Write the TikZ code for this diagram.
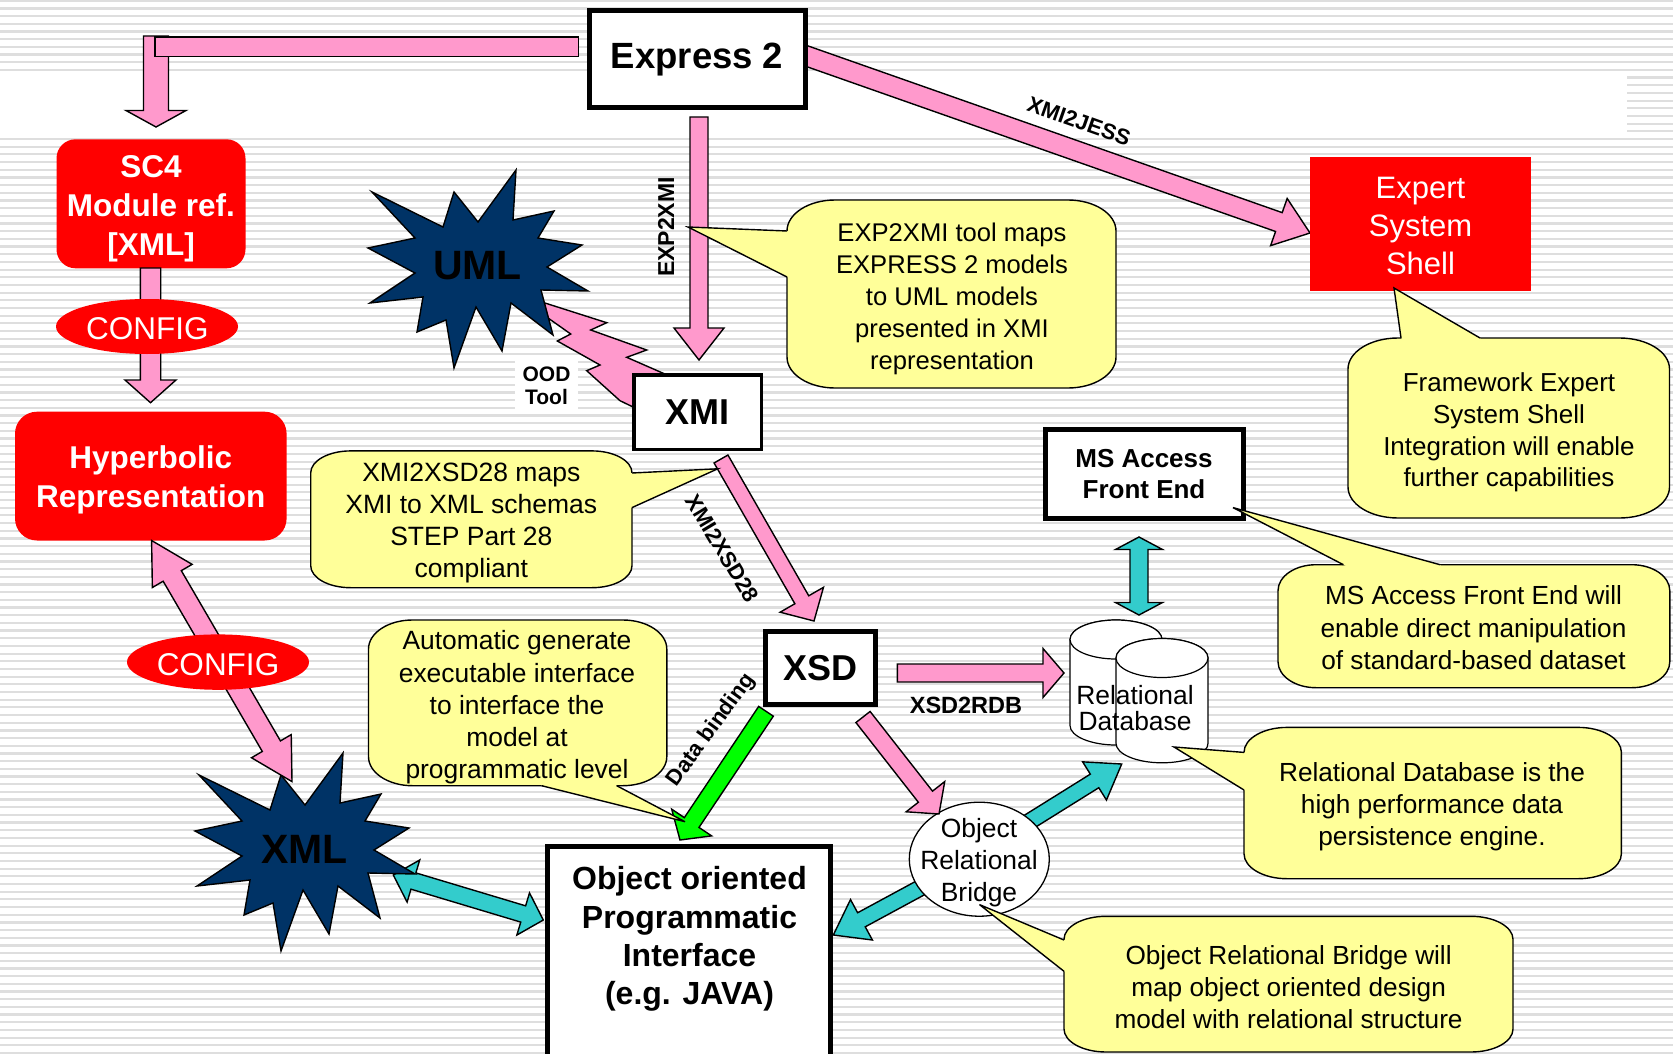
\documentclass[tikz,border=0pt]{standalone}
\usepackage{fontspec}
\setmainfont{Liberation Sans}
\usetikzlibrary{calc,shapes.geometric}

\definecolor{pinkfill}{RGB}{255,153,204}
\definecolor{cyanfill}{RGB}{51,204,204}
\definecolor{navyfill}{RGB}{0,51,102}
\definecolor{notefill}{RGB}{255,255,153}
\definecolor{greenfill}{RGB}{0,255,0}
\definecolor{bgstripe}{RGB}{222,222,222}

\newcommand\fsz[2]{\fontsize{#1}{#2}\selectfont}

\tikzset{
  outline/.style={draw=black, line width=1.4pt, line join=miter, miter limit=6},
  pinkarrow/.style={outline, fill=pinkfill},
  cyanarrow/.style={outline, fill=cyanfill},
  greenarrow/.style={outline, fill=greenfill},
  notebox/.style={outline, fill=notefill},
  starshape/.style={outline, fill=navyfill},
  framebox/.style={draw=black, fill=white, line width=5pt, inner sep=0pt, align=center},
  redbox/.style={fill=red, text=white, inner sep=0pt, align=center},
  whitetext/.style={text=white, inner sep=0pt, align=center},
  notetext/.style={inner sep=0pt, align=center},
  arrowlabel/.style={inner sep=0pt, font=\fsz{22}{26}\bfseries},
}

% straight block arrow: [style]{from}{to}{half shaft}{half head}{head length}
\newcommand\blockarrow[6][pinkarrow]{%
  \path ($(#3)!#6!(#2)$) coordinate (ba-h);
  \draw[#1] ($(#2)!#4!90:(#3)$) -- ($(ba-h)!#4!90:(#3)$) -- ($(ba-h)!#5!90:(#3)$) -- (#3)
    -- ($(ba-h)!#5!-90:(#3)$) -- ($(ba-h)!#4!-90:(#3)$) -- ($(#2)!#4!-90:(#3)$) -- cycle;}

% block arrow with a head at both ends
\newcommand\dblarrow[6][cyanarrow]{%
  \path ($(#2)!#6!(#3)$) coordinate (da-a) ($(#3)!#6!(#2)$) coordinate (da-b);
  \draw[#1] (#2) -- ($(da-a)!#5!90:(#3)$) -- ($(da-a)!#4!90:(#3)$) -- ($(da-b)!#4!90:(#3)$)
    -- ($(da-b)!#5!90:(#3)$) -- (#3) -- ($(da-b)!#5!-90:(#3)$) -- ($(da-b)!#4!-90:(#3)$)
    -- ($(da-a)!#4!-90:(#3)$) -- ($(da-a)!#5!-90:(#3)$) -- cycle;}

% twelve-point burst centred on #1
\newcommand\starburst[1]{%
  \draw[starshape, shift={#1}] (-106,-77) -- (-35,-42) -- (-24,-77) -- (0,-47) -- (38,-99)
    -- (35,-49) -- (76,-58) -- (60,-31) -- (104,-24) -- (69,-2) -- (110,22) -- (63,21)
    -- (75,66) -- (33,34) -- (24,82) -- (-2,38) -- (-24,99) -- (-32,51) -- (-61,63)
    -- (-55,28) -- (-108,34) -- (-63,4) -- (-110,-21) -- (-63,-31) -- cycle;}

% database drum: centre x, top y, bottom y, x radius, y radius
\newcommand\drum[5]{%
  \draw[outline, fill=white, line width=1.2pt] (#1-#4,#2) -- (#1-#4,#3)
    arc[start angle=180, end angle=0, x radius=#4, y radius=#5] -- (#1+#4,#2)
    arc[start angle=0, end angle=-180, x radius=#4, y radius=#5] -- cycle;
  \draw[outline, fill=white, line width=1.2pt] (#1,#2) ellipse[x radius=#4, y radius=#5];}

% speech balloon: x1,y1,x2,y2, corner rx, corner ry, tip, base point 1, base point 2
\newcommand\balloon[9]{%
  \coordinate (bc) at ({(#1+#3)/2},{(#2+#4)/2});
  \draw[notebox] (#1+#5,#2) -- (#3-#5,#2) arc[start angle=-90, end angle=0, x radius=#5, y radius=#6]
    -- (#3,#4-#6) arc[start angle=0, end angle=90, x radius=#5, y radius=#6]
    -- (#1+#5,#4) arc[start angle=90, end angle=180, x radius=#5, y radius=#6]
    -- (#1,#2+#6) arc[start angle=180, end angle=270, x radius=#5, y radius=#6] -- cycle;
  \fill[notefill] (#7) -- (#8) -- ($(#8)!4pt!(bc)$) -- ($(#9)!4pt!(bc)$) -- (#9) -- cycle;
  \draw[outline] (#8) -- (#7) -- (#9);}

\begin{document}
\begin{tikzpicture}[x=1pt, y=-1pt]
\useasboundingbox (0,0) rectangle (1673,1054);
\clip (0,0) rectangle (1673,1054);

% striped slide background
\fill[white] (0,0) rectangle (1673,1054);
\foreach \i in {0,...,137}
  \draw[draw=bgstripe, line width=2.2pt] (0,0.8+7.68*\i) -- (1673,0.8+7.68*\i);
\fill[white] (0,72) rectangle (1627,133);

% arrow end points
\coordinate (L-top) at (156,36);
\coordinate (L-tip) at (156,127);
\coordinate (jess-a) at (800,53.7);
\coordinate (jess-b) at (1310,233);
\coordinate (exp-a) at (699,117);
\coordinate (exp-b) at (699,360);
\coordinate (sc4-a) at (150.5,268);
\coordinate (sc4-b) at (150.5,402.7);
\coordinate (x28-a) at (721,459);
\coordinate (x28-b) at (814,621);
\coordinate (hx-a) at (151.6,540.5);
\coordinate (hx-b) at (292,781.6);
\coordinate (xo-a) at (393.3,875);
\coordinate (xo-b) at (543.3,920);
\coordinate (db-a) at (766,711.3);
\coordinate (db-b) at (680,840);
\coordinate (rdb-a) at (897.3,673);
\coordinate (rdb-b) at (1064,673);
\coordinate (ma-a) at (1139,537);
\coordinate (ma-b) at (1139,615);
\coordinate (or-a) at (1003,838);
\coordinate (or-b) at (1121.7,764);
\coordinate (oo-a) at (956,868.6);
\coordinate (oo-b) at (833.3,935);
\coordinate (xb-a) at (863,717);
\coordinate (xb-b) at (939,814);

% Express 2 -> SC4 bent arrow
\blockarrow[pinkarrow]{L-top}{L-tip}{12.5pt}{30pt}{16.5pt}
\draw[pinkarrow] (155,37) rectangle (578.5,56.5);

% Express 2 -> Expert System Shell
\blockarrow[pinkarrow]{jess-a}{jess-b}{10pt}{25pt}{33pt}
\node[framebox, minimum width=216pt, minimum height=96.7pt, font=\fsz{36.5}{40}\bfseries]
  (express) at (697.1,59.2) {Express 2};
\node[redbox, minimum width=220.6pt, minimum height=133.5pt] (expert) at (1420.3,223.8) {};
\node[whitetext, font=\fsz{31}{38}] (experttext) at (1420.5,226) {Expert\\System\\Shell};

% Express 2 -> XMI
\blockarrow[pinkarrow]{exp-a}{exp-b}{9pt}{25pt}{32pt}

% left column
\node[redbox, rounded corners=19pt, minimum width=189pt, minimum height=129pt] (sc4) at (151,203.8) {};
\node[whitetext, font=\fsz{31.5}{39}\bfseries] (sc4text) at (151,209)
  {SC4\\Module ref.\\{[XML]}};
\blockarrow[pinkarrow]{sc4-a}{sc4-b}{10.2pt}{25.5pt}{22.7pt}
\node[ellipse, fill=red, minimum width=182pt, minimum height=55pt, inner sep=0pt]
  (cfgA) at (147,326.5) {};
\node[whitetext, font=\fsz{31.5}{36}] (cfgAtext) at (147.4,328.5) {CONFIG};
\node[redbox, rounded corners=22pt, minimum width=271.6pt, minimum height=128.8pt]
  (hyper) at (150.8,476.1) {};
\node[whitetext, font=\fsz{31.5}{38.5}\bfseries] (hypertext) at (150.8,479.8)
  {Hyperbolic\\Representation};

% UML burst and the OOD tool bolt into XMI
\draw[pinkarrow] (544,302.7) -- (606.7,322.7) -- (590.7,330) -- (646.7,350) -- (626.7,357.3)
  -- (690,385) -- (660,420) -- (620,400.7) -- (586.7,370.7) -- (600,365) -- (557.3,341)
  -- (570.7,334) -- (548,318) -- cycle;
\starburst{(478,269)}
\node[inner sep=0pt, font=\fsz{41}{44}\bfseries] (uml) at (477.5,265.5) {UML};
\node[draw=black, fill=white, line width=3.5pt, inner sep=0pt, minimum width=127.5pt,
  minimum height=74.5pt, font=\fsz{36}{40}\bfseries] (xmi) at (697.5,412) {XMI};
\node[fill=white, inner sep=0pt, minimum width=63pt, minimum height=54pt, align=center,
  font=\fsz{21}{23}\bfseries] (ood) at (546.5,386) {OOD\\Tool};

% XMI -> XSD
\blockarrow[pinkarrow]{x28-a}{x28-b}{8pt}{25pt}{24.5pt}
\node[framebox, minimum width=110pt, minimum height=72.4pt, font=\fsz{36}{40}\bfseries]
  (xsd) at (820.8,668) {XSD};

% XML burst with its links
\dblarrow[cyanarrow]{xo-a}{xo-b}{8.5pt}{22pt}{21pt}
\starburst{(305,852)}
\node[inner sep=0pt, font=\fsz{41}{44}\bfseries] (xml) at (304.4,849) {XML};
\dblarrow[pinkarrow]{hx-a}{hx-b}{10.5pt}{23pt}{41pt}
\node[ellipse, fill=red, minimum width=182pt, minimum height=55.4pt, inner sep=0pt]
  (cfgB) at (218,662.1) {};
\node[whitetext, font=\fsz{31.5}{36}] (cfgBtext) at (218,664.2) {CONFIG};

% data binding into the programmatic interface
\blockarrow[greenarrow]{db-a}{db-b}{8.8pt}{24pt}{21pt}
\node[framebox, minimum width=283pt, minimum height=216pt] (oop) at (689,954.5) {};
\node[notetext, font=\fsz{32}{38.3}\bfseries] (ooptext) at (689.5,939.2)
  {Object oriented\\Programmatic\\Interface\\(e.g. JAVA)};

% relational database
\blockarrow[pinkarrow]{rdb-a}{rdb-b}{9pt}{24.5pt}{21pt}
\drum{1116}{639.5}{725.5}{46}{19.5}
\drum{1162}{658}{743.3}{46}{19.5}
\node[notetext, font=\fsz{26.4}{26.5}] (rdb) at (1135,708) {Relational\\Database};

% MS Access front end
\node[framebox, minimum width=198pt, minimum height=89pt, font=\fsz{26}{31.3}\bfseries]
  (msaccess) at (1144,474) {MS Access\\Front End};
\dblarrow[cyanarrow]{ma-a}{ma-b}{9pt}{23.5pt}{12.5pt}

% object relational bridge
\blockarrow[cyanarrow]{or-a}{or-b}{8pt}{22.5pt}{32pt}
\blockarrow[cyanarrow]{oo-a}{oo-b}{8pt}{23pt}{32pt}
\node[ellipse, draw=black, fill=white, line width=1.3pt, minimum width=140pt,
  minimum height=114pt, inner sep=0pt] (orb) at (979.3,859.2) {};
\node[notetext, font=\fsz{26.4}{32}] (orbtext) at (979,862.5) {Object\\Relational\\Bridge};
\blockarrow[pinkarrow]{xb-a}{xb-b}{9pt}{24.5pt}{22pt}

% arrow labels
\node[arrowlabel, font=\fsz{23}{26}\bfseries, rotate=90] (lblexp) at (666,227) {EXP2XMI};
\node[arrowlabel, rotate=-19.5] (lbljess) at (1079,121) {XMI2JESS};
\node[arrowlabel, rotate=-59] (lblx28) at (722.5,548.5) {XMI2XSD28};
\node[arrowlabel, font=\fsz{23.5}{26}\bfseries] (lblrdb) at (966,705) {XSD2RDB};
\node[arrowlabel, rotate=54] (lblbind) at (711.5,730) {Data binding};

% explanatory balloons
\balloon{787}{200}{1116}{388}{48}{31}{688,227}{787,231}{787,277}
\node[notetext, font=\fsz{25.6}{32}] (noteexp) at (952,298.5)
  {EXP2XMI tool maps\\EXPRESS 2 models\\to UML models\\presented in XMI\\representation};

\balloon{1348}{338}{1669.5}{518}{50}{31}{1394,288}{1401,338}{1480,338}
\node[notetext, font=\fsz{26}{31.7}] (noteframe) at (1509,432.5)
  {Framework Expert\\System Shell\\Integration will enable\\further capabilities};

\balloon{1278}{564.7}{1669.8}{687.7}{38}{26}{1233,507.6}{1343.4,564.7}{1440,564.7}
\node[notetext, font=\fsz{26.2}{32.3}] (notems) at (1473.5,627.8)
  {MS Access Front End will\\enable direct manipulation\\of standard-based dataset};

\balloon{1244}{727.4}{1621.4}{878.7}{43}{25}{1174,747}{1244,752.4}{1244,790}
\node[notetext, font=\fsz{26.2}{32.3}] (noterdb) at (1432,806.6)
  {Relational Database is the\\high performance data\\persistence engine.};

\balloon{1064}{916.3}{1513}{1052}{42}{23}{979.5,904.6}{1064,940}{1064,971.3}
\node[notetext, font=\fsz{26.2}{31.7}] (noteorb) at (1288.6,987)
  {Object Relational Bridge will\\map object oriented design\\model with relational structure};

\balloon{310.7}{450.9}{632}{587.7}{40}{22}{717.7,468.8}{632,473}{632,507.6}
\node[notetext, font=\fsz{26.5}{32}] (notexsd) at (471.3,522.6)
  {XMI2XSD28 maps\\XMI to XML schemas\\STEP Part 28\\compliant};

\balloon{368.5}{620}{666.8}{785.7}{44}{29}{685,821.7}{541.7,785.7}{616.7,785.7}
\node[notetext, font=\fsz{26.4}{32.2}] (noteauto) at (517,707.5)
  {Automatic generate\\executable interface\\to interface the\\model at\\programmatic level};
\end{tikzpicture}
\end{document}
